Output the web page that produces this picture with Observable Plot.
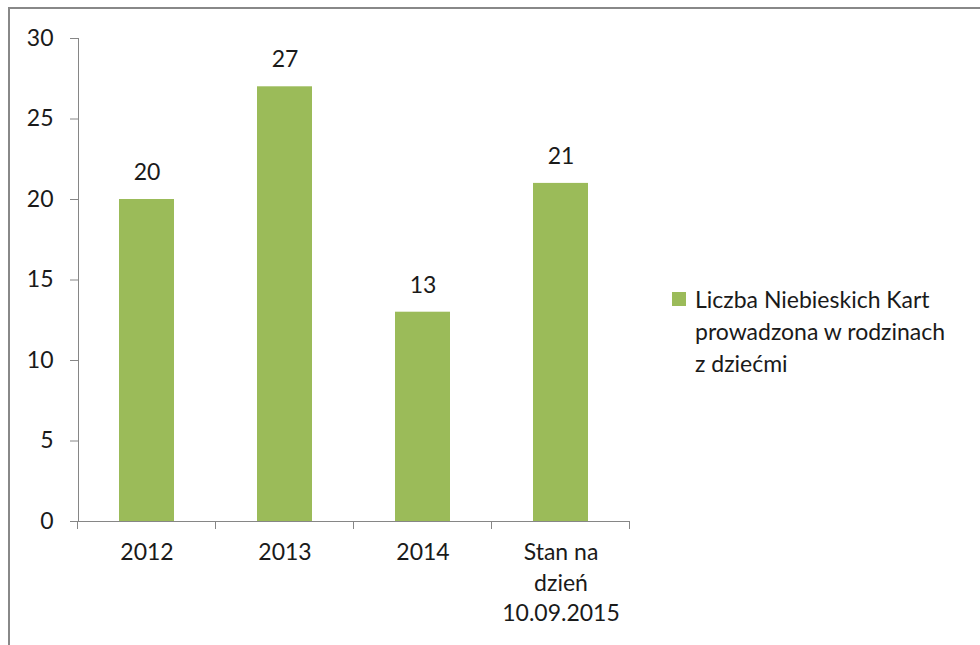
<!DOCTYPE html>
<html>
<head>
<meta charset="utf-8">
<script src="https://cdn.jsdelivr.net/npm/d3@7"></script>
<script src="https://cdn.jsdelivr.net/npm/@observablehq/plot@0.6"></script>
<style>
  html, body { margin: 0; padding: 0; background: #fff; }
  body { width: 980px; height: 645px; position: relative; overflow: hidden; font-family: Lato, "Open Sans", sans-serif; }
  #border { position: absolute; left: 8px; top: 7px; width: 1100px; height: 800px; border-top: 2px solid #888; border-left: 2px solid #888; box-sizing: border-box; }
  #chart { position: absolute; left: 0; top: 0; }
  #legend { position: absolute; left: 672px; top: 283px; font-size: 23px; color: #1a1a1a; line-height: 32px; }
  #legend .sw { position: absolute; left: 0; top: 9px; width: 14px; height: 14px; background: #9BBB59; }
  #legend .tx { position: absolute; left: 23px; top: 0; white-space: nowrap; }
</style>
</head>
<body>
<div id="border"></div>
<div id="chart"></div>
<div id="legend"><div class="sw"></div><div class="tx" id="legtext"></div></div>
<script>
const categories = ["2012", "2013", "2014", "Stan na\ndzień\n10.09.2015"];
const values = [20, 27, 13, 21];
const yTicks = [0, 5, 10, 15, 20, 25, 30];
const seriesName = ["Liczba Niebieskich Kart", "prowadzona w rodzinach", "z dziećmi"];

const data = categories.map((c, i) => ({category: c, value: values[i]}));

const axisColor = "#868686";
const textColor = "#1a1a1a";

const chart = Plot.plot({
  width: 980,
  height: 645,
  marginLeft: 78,
  marginRight: 350,
  marginTop: 38,
  marginBottom: 124,
  style: {fontFamily: "Lato, 'Open Sans', sans-serif", fontSize: "23px", color: textColor, background: "transparent"},
  x: {domain: categories, paddingInner: 0.6, paddingOuter: 0.3, label: null},
  y: {domain: [0, 30], label: null},
  marks: [
    Plot.barY(data, {x: "category", y: "value", fill: "#9BBB59"}),
    Plot.text(data, {x: "category", y: "value", text: d => String(d.value), dy: -27, lineAnchor: "middle", fill: textColor, fontSize: 23}),
    Plot.axisY({ticks: yTicks, tickSize: 8, tickPadding: 17, stroke: axisColor, fill: textColor, fontSize: 23, label: null, tickFormat: d => String(d)}),
    Plot.axisX({tickSize: 0, tickPadding: 17, fill: textColor, fontSize: 23, label: null, lineHeight: 1.33}),
    Plot.frame({anchor: "left", stroke: axisColor}),
    Plot.ruleY([0], {stroke: axisColor})
  ]
});
document.getElementById("chart").appendChild(chart);

// category boundary ticks on the x axis (positions from the x band scale)
const xs = chart.scale("x");
const ys = chart.scale("y");
const svg = d3.select(chart);
const step = xs.step;
const bounds = categories.map(c => xs.apply(c) - (step - xs.bandwidth) / 2);
bounds.push(xs.apply(categories[categories.length - 1]) + xs.bandwidth + (step - xs.bandwidth) / 2);
const y0 = ys.apply(0);
svg.append("g").selectAll("line").data(bounds).join("line")
  .attr("x1", d => d).attr("x2", d => d)
  .attr("y1", y0).attr("y2", y0 + 8)
  .attr("stroke", axisColor);

document.getElementById("legtext").innerHTML = seriesName.join("<br>");
</script>
</body>
</html>
